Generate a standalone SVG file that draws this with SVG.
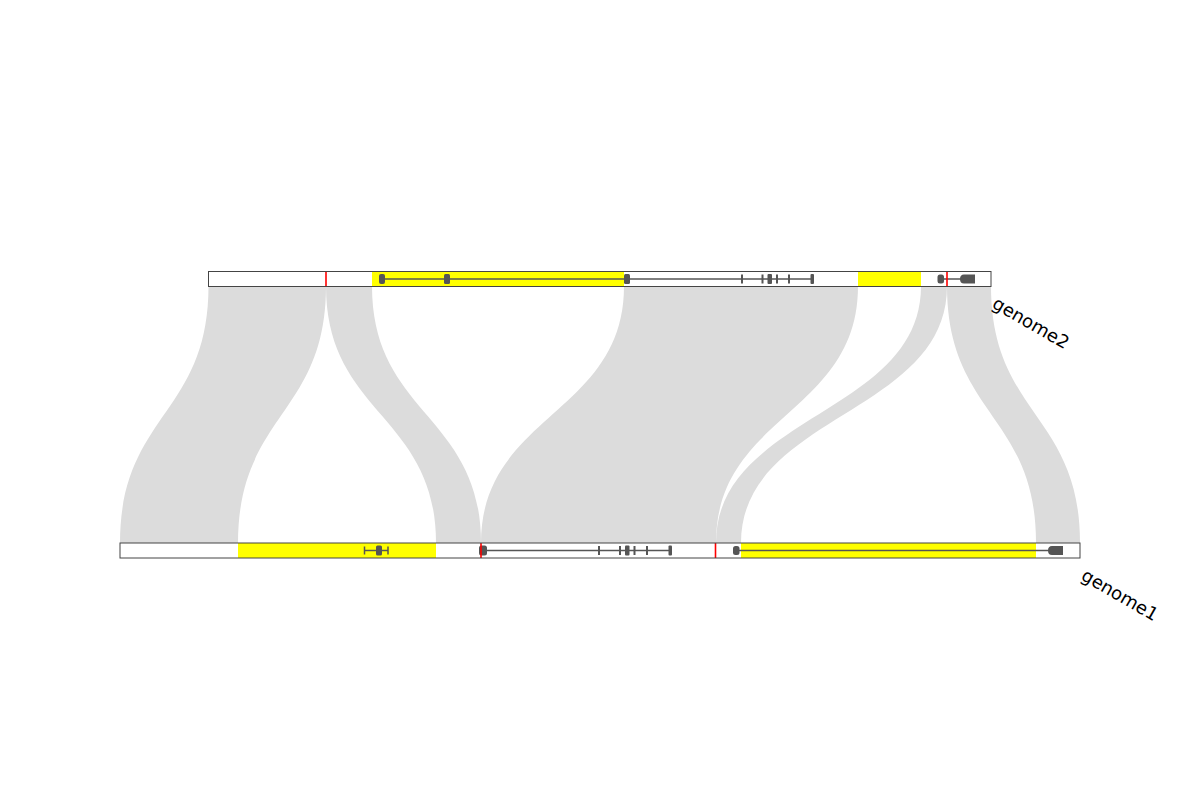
<svg xmlns="http://www.w3.org/2000/svg" width="1200" height="800" viewBox="0 0 1200 800">
<style>
.rib{fill:#dcdcdc;stroke:none}
.bar{fill:none;stroke:#444;stroke-width:1}
.bg{fill:#fff}
.hl{fill:#ffff00}
.red{stroke:#ff0000;stroke-width:1.6}
.intr{stroke:#555;stroke-width:1.5}
.ex{fill:#555}
.lbl{font-family:"DejaVu Sans",sans-serif;font-size:18px;fill:#000}
</style>
<rect width="1200" height="800" fill="#fff"/>
<g id="connectors">
<path class="rib" d="M208.5,286 C208.5,414.5 120,414.5 120,543 L238,543 C238,414.5 326,414.5 326,286 Z"/>
<path class="rib" d="M326,286 C326,414.5 436,414.5 436,543 L481,543 C481,414.5 372,414.5 372,286 Z"/>
<path class="rib" d="M624,286 C624,414.5 481,414.5 481,543 L716,543 C716,414.5 858,414.5 858,286 Z"/>
<path class="rib" d="M921,286 C921,414.5 716,414.5 716,543 L741,543 C741,414.5 947,414.5 947,286 Z"/>
<path class="rib" d="M947,286 C947,414.5 1036,414.5 1036,543 L1080,543 C1080,414.5 991,414.5 991,286 Z"/>
</g>
<g id="genome2">
<rect class="bg" x="208.5" y="271.5" width="782.5" height="15"/>
<rect class="hl" x="372" y="271.5" width="252" height="15"/>
<rect class="hl" x="858" y="271.5" width="63" height="15"/>
<line class="intr" x1="382" y1="279" x2="812" y2="279"/>
<rect class="ex" x="379" y="274" width="6" height="10" rx="2"/>
<rect class="ex" x="444" y="274" width="6" height="10" rx="1.5"/>
<rect class="ex" x="624" y="274" width="6" height="10" rx="1.5"/>
<rect class="ex" x="741" y="274.5" width="2" height="9"/>
<rect class="ex" x="761.5" y="274.5" width="2" height="9"/>
<rect class="ex" x="767.5" y="274" width="4.5" height="10" rx="1"/>
<rect class="ex" x="776" y="274.5" width="2" height="9"/>
<rect class="ex" x="788" y="274.5" width="2" height="9"/>
<rect class="ex" x="810.5" y="274" width="3.5" height="10" rx="1"/>
<line class="intr" x1="941" y1="279" x2="963" y2="279"/>
<rect class="ex" x="937.5" y="274.5" width="6.5" height="9" rx="2.5"/>
<path class="ex" d="M964,274.5 L975,274.5 L975,283.5 L964,283.5 Q960,283.5 960,279 Q960,274.5 964,274.5 Z"/>
<line class="red" x1="326" y1="271.5" x2="326" y2="286.5"/>
<line class="red" x1="947" y1="271.5" x2="947" y2="286.5"/>
<rect class="bar" x="208.5" y="271.5" width="782.5" height="15"/>
<text class="lbl" transform="translate(991,307) rotate(30)">genome2</text>
</g>
<g id="genome1">
<rect class="bg" x="120" y="543" width="960" height="15"/>
<rect class="hl" x="238" y="543" width="198" height="15"/>
<rect class="hl" x="741" y="543" width="295" height="15"/>
<line class="intr" x1="364.5" y1="550.5" x2="388" y2="550.5"/>
<line class="intr" x1="364.5" y1="546.5" x2="364.5" y2="554.5"/>
<line class="intr" x1="388" y1="546.5" x2="388" y2="554.5"/>
<rect class="ex" x="376" y="545.5" width="6" height="10" rx="1.5"/>
<line class="intr" x1="483" y1="550.5" x2="670" y2="550.5"/>
<rect class="ex" x="479" y="545.5" width="8" height="10" rx="2.5"/>
<rect class="ex" x="598" y="546" width="2" height="9"/>
<rect class="ex" x="619" y="546" width="2" height="9"/>
<rect class="ex" x="625" y="545.5" width="4.5" height="10" rx="1"/>
<rect class="ex" x="633.5" y="546" width="2" height="9"/>
<rect class="ex" x="646" y="546" width="2" height="9"/>
<rect class="ex" x="668.5" y="545.5" width="3.5" height="10" rx="1"/>
<line class="intr" x1="736" y1="550.5" x2="1050" y2="550.5"/>
<rect class="ex" x="733" y="546" width="6.5" height="9" rx="2.5"/>
<path class="ex" d="M1052,546 L1063,546 L1063,555 L1052,555 Q1048,555 1048,550.5 Q1048,546 1052,546 Z"/>
<line class="red" x1="481" y1="543" x2="481" y2="558"/>
<line class="red" x1="715.5" y1="543" x2="715.5" y2="558"/>
<rect class="bar" x="120" y="543" width="960" height="15"/>
<text class="lbl" transform="translate(1080,579) rotate(30)">genome1</text>
</g>
</svg>
